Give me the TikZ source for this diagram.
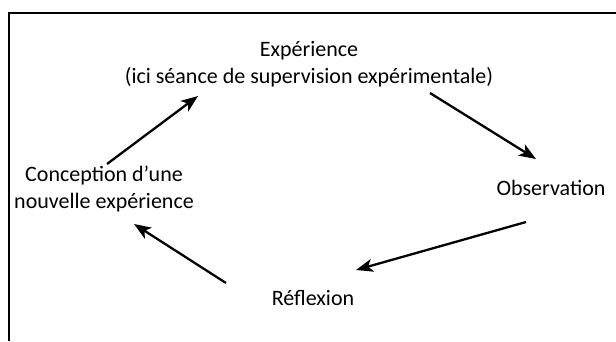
\documentclass[tikz,border=0pt]{standalone}
\usepackage{fontspec}
\setmainfont{Carlito}
\usetikzlibrary{arrows.meta}
\tikzset{
  lbl/.style={align=center, font=\fontsize{22}{27}\selectfont, inner sep=0pt},
  cyc/.style={line width=2.3pt, -{Stealth[length=17pt,width=13pt,inset=4.5pt]}},
  frame/.style={line width=1.3pt}
}
\begin{document}
\begin{tikzpicture}[x=1pt,y=-1pt]
\useasboundingbox (0,0) rectangle (616,341);
\coordinate (ftr) at (616,13);
\coordinate (ftl) at (9,13);
\coordinate (fbl) at (9,341);
\draw[frame] (ftr) -- (ftl) -- (fbl);
\node[lbl] (exp) at (309,64) {Expérience\\(ici séance de supervision expérimentale)};
\node[lbl] (conc) at (104,189) {Conception d’une\\nouvelle expérience};
\node[lbl] (obs) at (551,188) {Observation};
\node[lbl] (refl) at (313,298) {Réflexion};
\coordinate (a1s) at (107,164); \coordinate (a1e) at (198,96);
\coordinate (a2s) at (430,93); \coordinate (a2e) at (536,159);
\coordinate (a3s) at (526,222); \coordinate (a3e) at (356,270);
\coordinate (a4s) at (226,283); \coordinate (a4e) at (134,224);
\draw[cyc] (a1s) -- (a1e);
\draw[cyc] (a2s) -- (a2e);
\draw[cyc] (a3s) -- (a3e);
\draw[cyc] (a4s) -- (a4e);
\end{tikzpicture}
\end{document}
